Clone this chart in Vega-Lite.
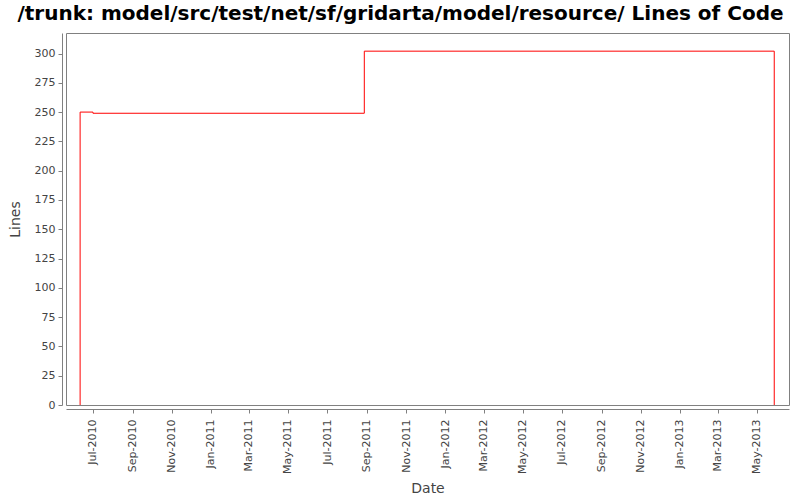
{
  "$schema": "https://vega.github.io/schema/vega-lite/v6.json",
  "width": 723,
  "height": 372,
  "autosize": {"type": "none"},
  "padding": {"left": 66, "top": 33, "right": 11, "bottom": 95},
  "background": "white",
  "title": {
    "text": "/trunk: model/src/test/net/sf/gridarta/model/resource/ Lines of Code",
    "anchor": "middle",
    "frame": "group",
    "dx": -27,
    "offset": 9,
    "font": "DejaVu Sans",
    "fontSize": 20,
    "fontWeight": "bold",
    "color": "#000000"
  },
  "config": {
    "view": {"stroke": "#808080", "strokeWidth": 1},
    "axis": {
      "domainColor": "#808080",
      "tickColor": "#808080",
      "labelColor": "#444444",
      "labelFont": "DejaVu Sans",
      "labelFontSize": 11,
      "titleFont": "DejaVu Sans",
      "titleFontSize": 14,
      "titleFontWeight": "normal",
      "titleColor": "#444444",
      "grid": false,
      "offset": 4,
      "tickSize": 4
    }
  },
  "data": {
    "values": [
      {"date": "2010-06-11T00:00:00", "loc": 0},
      {"date": "2010-06-11T00:00:00", "loc": 250},
      {"date": "2010-07-01T00:00:00", "loc": 249},
      {"date": "2011-08-28T00:00:00", "loc": 302},
      {"date": "2013-05-28T00:00:00", "loc": 0}
    ]
  },
  "mark": {"type": "line", "interpolate": "step-after", "color": "#ff0000", "strokeWidth": 1},
  "encoding": {
    "x": {
      "field": "date",
      "type": "temporal",
      "title": "Date",
      "scale": {"domain": ["2010-05-20T00:00:00", "2013-06-20T00:00:00"], "nice": false},
      "axis": {
        "format": "%b-%Y",
        "labelAngle": -90,
        "tickCount": {"interval": "month", "step": 2},
        "labelPadding": 6,
        "titlePadding": 8
      }
    },
    "y": {
      "field": "loc",
      "type": "quantitative",
      "title": "Lines",
      "scale": {"domain": [0, 317.5], "nice": false, "zero": true},
      "axis": {
        "values": [0, 25, 50, 75, 100, 125, 150, 175, 200, 225, 250, 275, 300],
        "labelPadding": 3,
        "titlePadding": 12
      }
    }
  }
}
